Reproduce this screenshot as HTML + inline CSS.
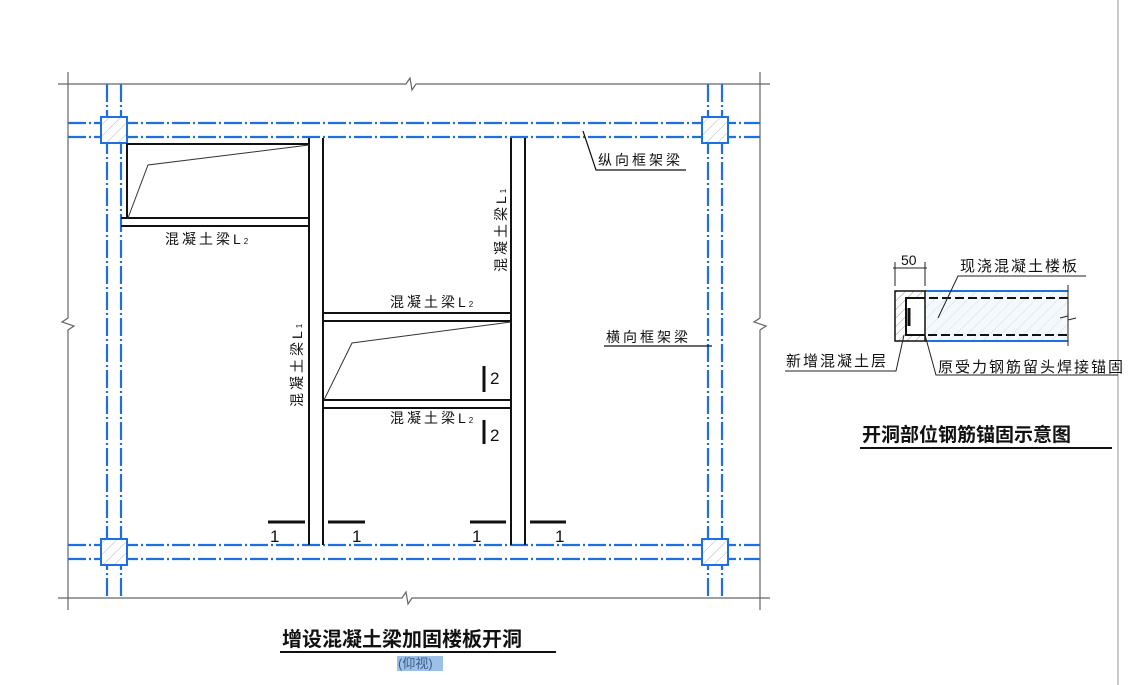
<!DOCTYPE html>
<html><head><meta charset="utf-8"><style>
body{margin:0;background:#fff;}
svg{display:block;}
text{font-family:"Liberation Sans","Noto Sans CJK SC",sans-serif;fill:#111;}
.l{font-size:14px;letter-spacing:3px;}
</style></head><body>
<svg width="1131" height="685" viewBox="0 0 1131 685" xmlns="http://www.w3.org/2000/svg">
<defs>
<pattern id="h" width="8" height="8" patternUnits="userSpaceOnUse" patternTransform="rotate(45)">
<line x1="0" y1="0" x2="0" y2="8" stroke="#9aa" stroke-width="0.8"/>
</pattern>
<pattern id="h2" width="6" height="6" patternUnits="userSpaceOnUse" patternTransform="rotate(45)">
<line x1="0" y1="0" x2="0" y2="6" stroke="#777" stroke-width="0.8"/>
</pattern>
</defs>
<line x1="1118" y1="0" x2="1118" y2="685" stroke="#bbb" stroke-width="1.5"/>
<g stroke="#666" stroke-width="1.2" fill="none">
<polyline points="58,84 406,84 410,78 412,90 416,84 770,84"/>
<polyline points="58,598 402,598 406,592 408,604 412,598 770,598"/>
<polyline points="68,72 68,318 62,322 74,326 68,330 68,610"/>
<polyline points="760,72 760,318 754,322 766,326 760,330 760,610"/>
</g>
<g stroke="#1e6fe0" stroke-width="2.2" stroke-dasharray="18 3 2 3" fill="none">
<line x1="68" y1="123" x2="760" y2="123"/>
<line x1="68" y1="137" x2="760" y2="137"/>
<line x1="68" y1="545" x2="760" y2="545"/>
<line x1="68" y1="559" x2="760" y2="559"/>
<line x1="107" y1="84" x2="107" y2="598"/>
<line x1="121" y1="84" x2="121" y2="598"/>
<line x1="708" y1="84" x2="708" y2="598"/>
<line x1="722" y1="84" x2="722" y2="598"/>
</g>
<g stroke="#1e6fe0" stroke-width="2" fill="#fff">
<rect x="101" y="117" width="26" height="26"/>
<rect x="702" y="117" width="26" height="26"/>
<rect x="101" y="539" width="26" height="26"/>
<rect x="702" y="539" width="26" height="26"/>
</g>
<g fill="url(#h)">
<rect x="102" y="118" width="24" height="24"/>
<rect x="703" y="118" width="24" height="24"/>
<rect x="102" y="540" width="24" height="24"/>
<rect x="703" y="540" width="24" height="24"/>
</g>
<g stroke="#111" stroke-width="2" fill="none">
<line x1="309" y1="138" x2="309" y2="545"/>
<line x1="323" y1="138" x2="323" y2="545"/>
<line x1="511" y1="138" x2="511" y2="545"/>
<line x1="525" y1="138" x2="525" y2="545"/>
<polyline points="309,144 127,144 127,218"/>
<line x1="121" y1="218" x2="309" y2="218"/>
<line x1="121" y1="226" x2="309" y2="226"/>
<line x1="323" y1="313" x2="511" y2="313"/>
<line x1="323" y1="321" x2="511" y2="321"/>
<line x1="323" y1="400" x2="511" y2="400"/>
<line x1="323" y1="408" x2="511" y2="408"/>
</g>
<g stroke="#333" stroke-width="1" fill="none">
<polyline points="128,218 148,165 309,145"/>
<polyline points="324,400 352,343 511,322"/>
</g>
<g stroke="#111" stroke-width="3">
<line x1="484" y1="366" x2="484" y2="392"/>
<line x1="484" y1="420" x2="484" y2="444"/>
<line x1="268" y1="522" x2="305" y2="522"/>
<line x1="328" y1="522" x2="365" y2="522"/>
<line x1="470" y1="522" x2="506" y2="522"/>
<line x1="530" y1="522" x2="566" y2="522"/>
</g>
<g font-size="17">
<text x="490" y="384">2</text>
<text x="490" y="441">2</text>
<text x="270" y="542">1</text>
<text x="352" y="542">1</text>
<text x="472" y="542">1</text>
<text x="555" y="542">1</text>
</g>
<g>
<text class="l" x="165" y="244">混凝土梁L<tspan font-size="8">2</tspan></text>
<text class="l" x="390" y="307">混凝土梁L<tspan font-size="8">2</tspan></text>
<text class="l" x="390" y="423">混凝土梁L<tspan font-size="8">2</tspan></text>
<text class="l" transform="translate(302,407) rotate(-90)">混凝土梁L<tspan font-size="8">1</tspan></text>
<text class="l" transform="translate(506,272) rotate(-90)">混凝土梁L<tspan font-size="8">1</tspan></text>
<text class="l" x="598" y="165">纵向框架梁</text>
<text class="l" x="606" y="342">横向框架梁</text>
</g>
<g stroke="#111" stroke-width="1.2" fill="none">
<polyline points="583,131 596,170 686,170"/>
<line x1="604" y1="346" x2="712" y2="346"/>
</g>
<text x="282" y="646" font-size="20" font-weight="bold">增设混凝土梁加固楼板开洞</text>
<line x1="280" y1="652" x2="556" y2="652" stroke="#111" stroke-width="2"/>
<rect x="397" y="656" width="46" height="15" fill="#9cc0e6"/>
<text x="398" y="668" font-size="13" style="fill:#3a5f8f">(仰视)</text>
<rect x="925" y="291" width="143" height="50" fill="url(#h)" opacity="0.8"/>
<rect x="925" y="291" width="143" height="50" fill="#e8f3fa" opacity="0.5"/>
<rect x="895" y="291" width="30" height="50" fill="url(#h2)"/>
<rect x="906" y="298" width="19" height="37" fill="#fff"/>
<g stroke="#1e6fe0" stroke-width="2">
<line x1="925" y1="291" x2="1068" y2="291"/>
<line x1="925" y1="341" x2="1068" y2="341"/>
</g>
<g stroke="#111" stroke-width="2" fill="none">
<rect x="895" y="291" width="30" height="50" stroke-width="1.5"/>
<polyline points="1068,298 906,298 906,335 1068,335" stroke-dasharray="9 4"/>
<polyline points="925,298 906,298 906,335 925,335"/>
<line x1="909" y1="308" x2="909" y2="326" stroke-width="3"/>
</g>
<g stroke="#222" stroke-width="1" fill="none">
<line x1="1068" y1="285" x2="1068" y2="346"/>
<polyline points="1060,318 1068,316 1068,320 1076,318"/>
<line x1="895" y1="262" x2="895" y2="286"/>
<line x1="925" y1="262" x2="925" y2="286"/>
<line x1="893" y1="268" x2="927" y2="268"/>
<polyline points="938,318 958,276 1086,276"/>
<polyline points="785,371 896,371 904,335"/>
<polyline points="925,335 936,375 1118,375"/>
</g>
<text x="901" y="265" font-size="14">50</text>
<g font-size="15" letter-spacing="2">
<text x="960" y="271">现浇混凝土楼板</text>
<text x="786" y="366">新增混凝土层</text>
<text x="938" y="372">原受力钢筋留头焊接锚固</text>
</g>
<text x="862" y="441" font-size="19" font-weight="bold">开洞部位钢筋锚固示意图</text>
<line x1="860" y1="448" x2="1112" y2="448" stroke="#111" stroke-width="2"/>
</svg>
</body></html>
